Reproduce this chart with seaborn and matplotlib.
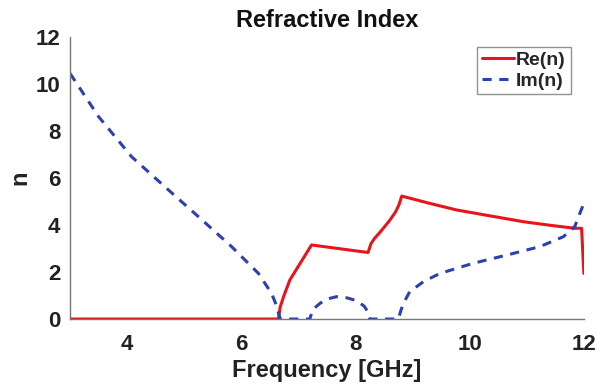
import numpy as np
import pandas as pd
import matplotlib
matplotlib.use("Agg")
import matplotlib.pyplot as plt
import seaborn as sns

# Re(n)
re_freq = [3.0, 6.0, 6.65, 6.68, 6.74, 6.85, 7.23, 8.22, 8.27, 8.33, 8.45, 8.6, 8.7, 8.76, 8.81, 9.3, 9.77, 10.4, 10.94, 11.4, 11.84, 11.96, 12.0]
re_vals = [0.0, 0.0, 0.0, 0.5, 0.95, 1.66, 3.15, 2.83, 3.2, 3.42, 3.75, 4.2, 4.55, 4.85, 5.23, 4.92, 4.64, 4.37, 4.14, 3.99, 3.86, 3.86, 1.94]

# Im(n)
im_freq = [3.0, 3.5, 4.08, 4.66, 5.25, 5.83, 6.3, 6.53, 6.62, 6.68, 7.2, 7.25, 7.38, 7.5, 7.67, 7.85, 8.02, 8.15, 8.22, 8.25, 8.75, 8.8, 8.84, 8.95, 9.19, 9.48, 10.06, 10.65, 11.23, 11.64, 11.84, 11.93, 12.0]
im_vals = [10.45, 8.61, 6.9, 5.63, 4.35, 3.08, 1.94, 1.09, 0.55, 0.0, 0.0, 0.4, 0.67, 0.85, 0.95, 0.9, 0.78, 0.55, 0.3, 0.0, 0.0, 0.4, 0.67, 1.16, 1.59, 1.94, 2.37, 2.72, 3.08, 3.5, 3.93, 4.5, 4.92]

x_ticks = [4, 6, 8, 10, 12]
y_ticks = [0, 2, 4, 6, 8, 10, 12]

sns.set_style("white")
plt.rcParams['font.family'] = ['Liberation Sans', 'DejaVu Sans']
plt.rcParams['font.weight'] = 'bold'

fig = plt.figure(figsize=(5.97, 3.85), dpi=100)
ax = fig.add_axes([0.1173, 0.1714, 0.8607, 0.7326])

df_re = pd.DataFrame({"f": re_freq, "v": re_vals})
df_im = pd.DataFrame({"f": im_freq, "v": im_vals})
sns.lineplot(data=df_re, x="f", y="v", ax=ax, color="#e8141b", lw=2.2, label="Re(n)")
sns.lineplot(data=df_im, x="f", y="v", ax=ax, color="#2e3fae", lw=2.2, ls=(0, (3, 2.5)), label="Im(n)")

ax.set_xlim(3, 12)
ax.set_ylim(0, 12)
ax.set_xticks(x_ticks)
ax.set_yticks(y_ticks)
ax.tick_params(direction="in", length=4, width=0.8, color="#555555", labelsize=16)
ax.tick_params(axis="x", pad=11)
ax.tick_params(axis="y", pad=7)
for lab in ax.get_xticklabels() + ax.get_yticklabels():
    lab.set_fontweight("bold")
    lab.set_color("#222222")
for s in ["top", "right"]:
    ax.spines[s].set_visible(False)
for s in ["left", "bottom"]:
    ax.spines[s].set_color("#777777")
    ax.spines[s].set_linewidth(1.0)

ax.set_xlabel("Frequency [GHz]", fontsize=17, fontweight="bold", color="#222222", labelpad=3)
ax.set_ylabel("n", fontsize=17, fontweight="bold", color="#222222", labelpad=3)
ax.set_title("Refractive Index", fontsize=17, fontweight="bold", color="#111111", pad=7)

leg = ax.legend(loc="upper right", bbox_to_anchor=(0.9745, 0.966), fontsize=14, frameon=True, fancybox=False,
                handlelength=1.65, handletextpad=0.1, borderpad=0.25, labelspacing=0.15, borderaxespad=0)
leg.get_frame().set_edgecolor("#777777")
leg.get_frame().set_linewidth(1.0)
for t in leg.get_texts():
    t.set_fontweight("bold")

fig.savefig("out.png", dpi=100)
